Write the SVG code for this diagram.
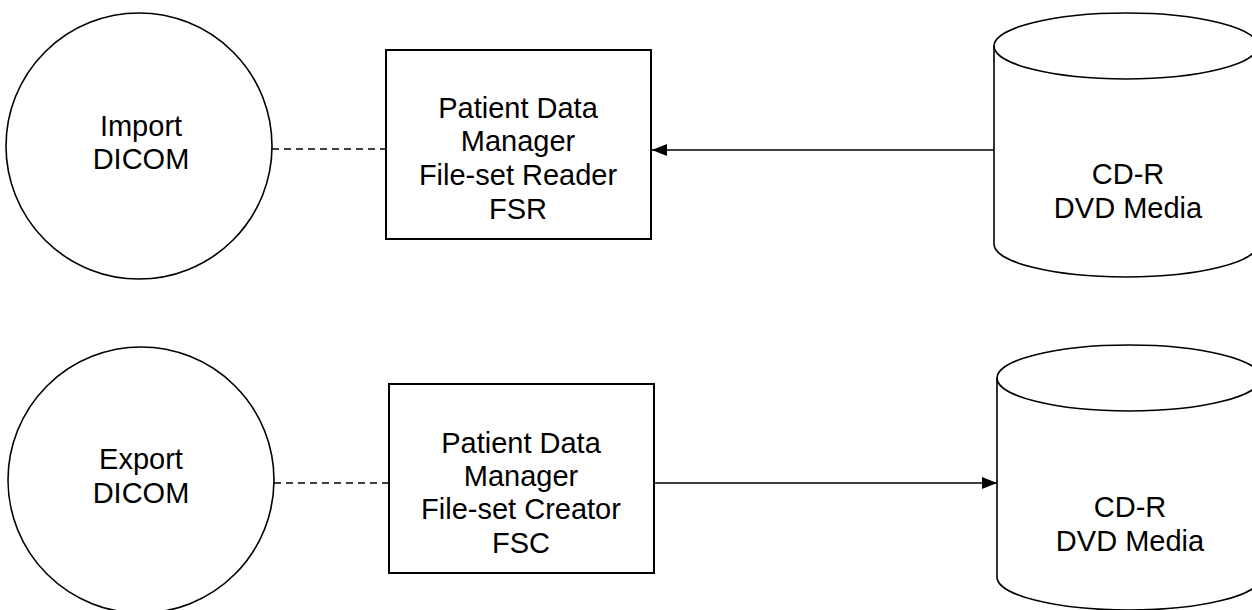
<svg xmlns="http://www.w3.org/2000/svg" width="1252" height="610" viewBox="0 0 1252 610">
<style>
.shape{fill:#fff;stroke:#000;stroke-width:1.6}
.box{fill:#fff;stroke:#000;stroke-width:2}
.lbl{font-family:"Liberation Sans",Arial,sans-serif;font-size:29px;fill:#000;text-anchor:middle}
.dash{stroke:#000;stroke-width:1.6;stroke-dasharray:7 5;fill:none}
.arr{stroke:#000;stroke-width:1.6;fill:none;marker-end:url(#ah)}
</style>
<defs>
<marker id="ah" markerWidth="15" markerHeight="12" refX="15" refY="6" orient="auto" markerUnits="userSpaceOnUse">
<path d="M0,0 L15,6 L0,12 Z" fill="#000"/>
</marker>
</defs>
<rect width="1252" height="610" fill="#fff"/>
<g id="connectors">
<line class="dash" x1="272" y1="149" x2="386" y2="149"/>
<line class="arr" x1="994" y1="150" x2="652" y2="150"/>
<line class="dash" x1="274" y1="483" x2="389" y2="483"/>
<line class="arr" x1="655" y1="483" x2="997" y2="483"/>
</g>
<g id="import-dicom">
<circle class="shape" cx="139" cy="146" r="133"/>
<text class="lbl" x="141" y="136">Import</text>
<text class="lbl" x="141" y="169">DICOM</text>
</g>
<g id="fsr">
<rect class="box" x="386" y="50" width="265" height="189"/>
<text class="lbl" x="518" y="118">Patient Data</text>
<text class="lbl" x="518" y="151">Manager</text>
<text class="lbl" x="518" y="185">File-set Reader</text>
<text class="lbl" x="518" y="219">FSR</text>
</g>
<g id="media-top">
<path class="shape" d="M994,46 L994,244 A132,33 0 0 0 1258,244 L1258,46 A132,33 0 0 0 994,46 Z"/>
<path class="shape" fill="none" d="M994,46 A132,33 0 0 0 1258,46"/>
<text class="lbl" x="1128" y="184">CD-R</text>
<text class="lbl" x="1128" y="218">DVD Media</text>
</g>
<g id="export-dicom">
<circle class="shape" cx="141" cy="480" r="133"/>
<text class="lbl" x="141" y="469">Export</text>
<text class="lbl" x="141" y="503">DICOM</text>
</g>
<g id="fsc">
<rect class="box" x="389" y="384" width="265" height="189"/>
<text class="lbl" x="521" y="453">Patient Data</text>
<text class="lbl" x="521" y="486">Manager</text>
<text class="lbl" x="521" y="519">File-set Creator</text>
<text class="lbl" x="521" y="553">FSC</text>
</g>
<g id="media-bottom">
<path class="shape" d="M997,378 L997,577 A132,33 0 0 0 1261,577 L1261,378 A132,33 0 0 0 997,378 Z"/>
<path class="shape" fill="none" d="M997,378 A132,33 0 0 0 1261,378"/>
<text class="lbl" x="1130" y="517">CD-R</text>
<text class="lbl" x="1130" y="551">DVD Media</text>
</g>
</svg>
